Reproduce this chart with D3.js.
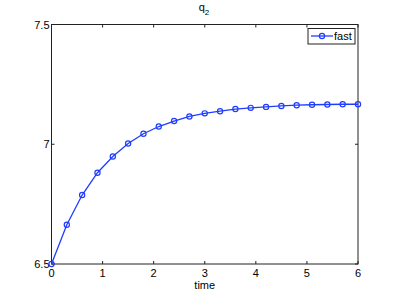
<!DOCTYPE html>
<html>
<head>
<meta charset="utf-8">
<script src="https://cdn.jsdelivr.net/npm/d3@7"></script>
<style>
  body { margin: 0; background: #fff; }
  text { font-family: "Liberation Sans", Arial, sans-serif; }
</style>
</head>
<body>
<div id="chart"></div>
<script>
var times = [0, 0.3, 0.6, 0.9, 1.2, 1.5, 1.8, 2.1, 2.4, 2.7, 3.0, 3.3, 3.6, 3.9, 4.2, 4.5, 4.8, 5.1, 5.4, 5.7, 6.0];
var fastValues = [6.5, 6.664, 6.788, 6.881, 6.949, 7.003, 7.044, 7.074, 7.097, 7.116, 7.129, 7.138, 7.147, 7.152, 7.156, 7.160, 7.163, 7.165, 7.166, 7.167, 7.167];
var xTicks = [0, 1, 2, 3, 4, 5, 6];
var yTicks = [6.5, 7, 7.5];
var seriesName = "fast";

function drawChart() {
  var width = 396, height = 297;
  var plotLeft = 51.5, plotRight = 358, plotTop = 24.5, plotBottom = 264;
  var blue = "#1f3dff";

  var svg = d3.select("#chart").append("svg")
    .attr("width", width)
    .attr("height", height);

  var x = d3.scaleLinear().domain([0, 6]).range([plotLeft, plotRight]);
  var y = d3.scaleLinear().domain([6.5, 7.5]).range([plotBottom, plotTop]);

  // box
  svg.append("rect")
    .attr("x", plotLeft).attr("y", plotTop)
    .attr("width", plotRight - plotLeft).attr("height", plotBottom - plotTop)
    .attr("fill", "none").attr("stroke", "#222").attr("stroke-width", 1);

  // ticks inside on all four sides
  var tickLen = 3;
  xTicks.forEach(function(t) {
    svg.append("line").attr("x1", x(t)).attr("x2", x(t))
      .attr("y1", plotBottom).attr("y2", plotBottom - tickLen).attr("stroke", "#222");
    svg.append("line").attr("x1", x(t)).attr("x2", x(t))
      .attr("y1", plotTop).attr("y2", plotTop + tickLen).attr("stroke", "#222");
    svg.append("text").attr("x", x(t)).attr("y", plotBottom + 13)
      .attr("text-anchor", "middle").attr("font-size", 11).text(t);
  });
  yTicks.forEach(function(t) {
    svg.append("line").attr("x1", plotLeft).attr("x2", plotLeft + tickLen)
      .attr("y1", y(t)).attr("y2", y(t)).attr("stroke", "#222");
    svg.append("line").attr("x1", plotRight).attr("x2", plotRight - tickLen)
      .attr("y1", y(t)).attr("y2", y(t)).attr("stroke", "#222");
    svg.append("text").attr("x", plotLeft - 2).attr("y", y(t) + 4)
      .attr("text-anchor", "end").attr("font-size", 11).text(t);
  });

  // x label
  svg.append("text").attr("x", (plotLeft + plotRight) / 2).attr("y", plotBottom + 25)
    .attr("text-anchor", "middle").attr("font-size", 11).text("time");

  // title q_2
  var title = svg.append("text").attr("x", 204).attr("y", 11)
    .attr("text-anchor", "middle").attr("font-size", 11);
  title.append("tspan").text("q");
  title.append("tspan").attr("font-size", 8).attr("dy", 4).text("2");

  // series
  var pts = times.map(function(t, i) { return [t, fastValues[i]]; });
  svg.append("path").datum(pts)
    .attr("fill", "none").attr("stroke", blue).attr("stroke-width", 1.3)
    .attr("d", d3.line().x(function(d) { return x(d[0]); }).y(function(d) { return y(d[1]); }));
  svg.selectAll("circle.pt").data(pts).enter().append("circle")
    .attr("class", "pt")
    .attr("cx", function(d) { return x(d[0]); })
    .attr("cy", function(d) { return y(d[1]); })
    .attr("r", 2.6)
    .attr("fill", "none").attr("stroke", blue).attr("stroke-width", 1.2);

  // legend
  var lg = svg.append("g");
  lg.append("rect").attr("x", 308).attr("y", 28.5).attr("width", 47).attr("height", 15.5)
    .attr("fill", "#fff").attr("stroke", "#222").attr("stroke-width", 1);
  lg.append("line").attr("x1", 311).attr("x2", 333).attr("y1", 36).attr("y2", 36)
    .attr("stroke", blue).attr("stroke-width", 1.3);
  lg.append("circle").attr("cx", 322).attr("cy", 36).attr("r", 2.6)
    .attr("fill", "none").attr("stroke", blue).attr("stroke-width", 1.2);
  lg.append("text").attr("x", 334).attr("y", 40).attr("font-size", 11).text(seriesName);
}

drawChart();
</script>
</body>
</html>
